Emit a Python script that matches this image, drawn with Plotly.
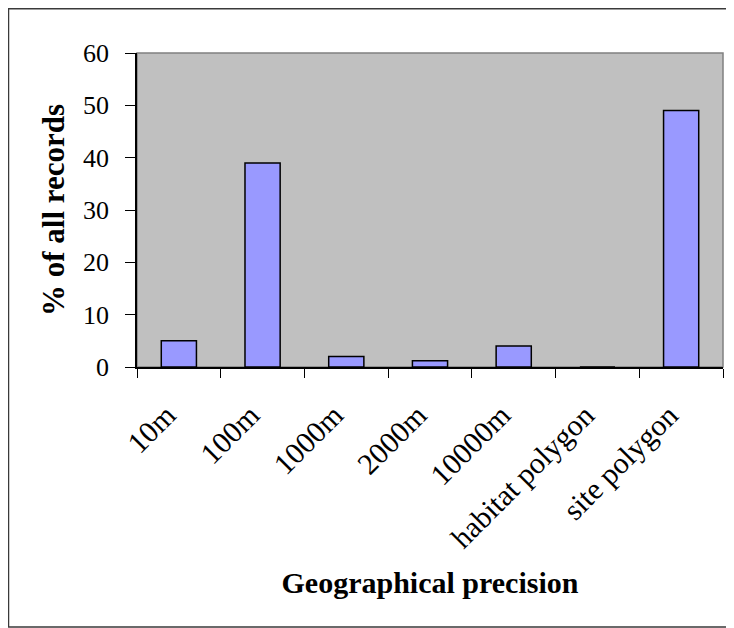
import plotly.graph_objects as go

categories = ["10m", "100m", "1000m", "2000m", "10000m", "habitat polygon", "site polygon"]
values = [5, 39, 2, 1.2, 4, 0, 49]
y_ticks = [0, 10, 20, 30, 40, 50, 60]

W, H = 726, 620
L, R, T, B = 129, 11, 45, 261
PW, PH = W - L - R, H - T - B

font = "Liberation Serif, Times New Roman, serif"

fig = go.Figure()
fig.add_trace(go.Bar(
    x=categories, y=values,
    marker=dict(color="#9999FF", line=dict(color="black", width=1.5)),
    width=0.42, hoverinfo="x+y",
))

fig.update_layout(
    width=W, height=H,
    margin=dict(l=L, r=R, t=T, b=B),
    paper_bgcolor="white", plot_bgcolor="#C0C0C0",
    font=dict(family=font, color="black", size=22),
    showlegend=False,
    shapes=[
        dict(type="rect", xref="paper", yref="paper", x0=0, x1=1, y0=0, y1=1,
             line=dict(color="#808080", width=1.5), layer="below"),
        dict(type="rect", xref="paper", yref="paper",
             x0=0.5 / PW - L / PW, x1=(W + 4 - L) / PW,
             y0=-(H - 1 - (T + PH)) / PH, y1=(T + PH - 0.75) / PH,
             line=dict(color="#3a3a3a", width=1.5)),
    ],
    xaxis=dict(
        tickson="boundaries", ticks="outside", ticklen=9,
        tickcolor="black", showline=True, linecolor="black", linewidth=1.5,
        showgrid=False, tickangle=-45, ticklabelstandoff=17, ticklabelshift=-12,
        tickfont=dict(size=30, family=font),
        title=dict(text="<b>Geographical precision</b>", font=dict(size=30, family=font), standoff=19),
    ),
    yaxis=dict(
        range=[0, 60], tickvals=y_ticks, ticks="outside", ticklen=10, tickcolor="black",
        showline=True, linecolor="black", linewidth=1.5, showgrid=False, zeroline=False,
        tickfont=dict(size=26, family=font), ticklabelstandoff=11,
        title=dict(text="<b>% of all records</b>", font=dict(size=31, family=font), standoff=9),
    ),
)
fig.write_html("out.html")
